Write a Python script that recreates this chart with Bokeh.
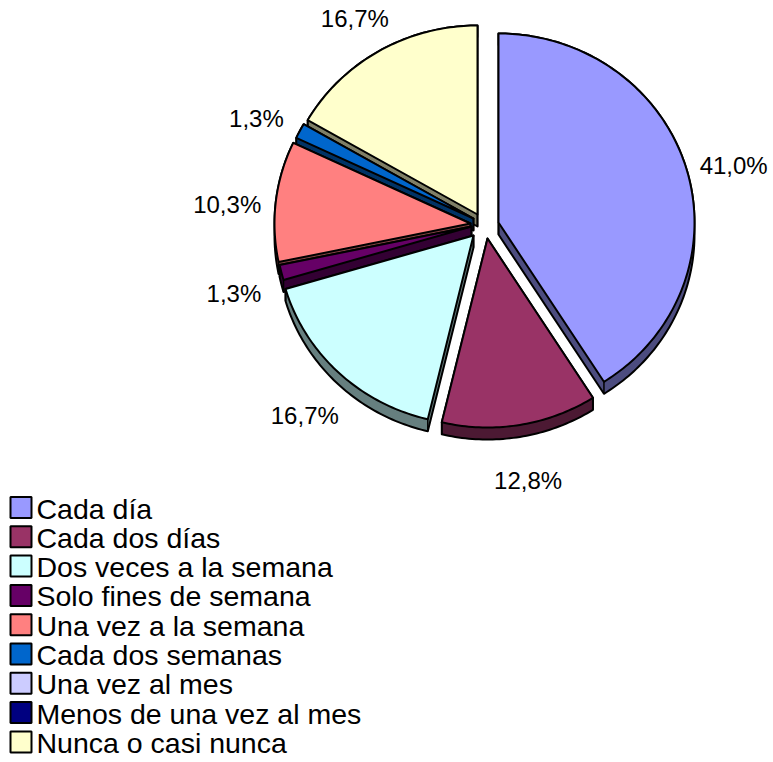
import math
from bokeh.plotting import figure
from bokeh.models import Range1d
from bokeh.embed import file_html
from bokeh.resources import INLINE
from bokeh.core.properties import value

# ---------------- data ----------------
categories = ["Cada día", "Cada dos días", "Dos veces a la semana", "Solo fines de semana",
              "Una vez a la semana", "Cada dos semanas", "Una vez al mes",
              "Menos de una vez al mes", "Nunca o casi nunca"]
percent = [41.0, 12.8, 16.7, 1.3, 10.3, 1.3, 0.0, 0.0, 16.7]
colors = ["#9999FF", "#993366", "#CCFFFF", "#660066", "#FF8080",
          "#0066CC", "#CCCCFF", "#000080", "#FFFFCC"]

# ---------------- layout ----------------
W, H = 773, 762
CX, CY = 474, 214          # pie centre (screen px, y down)
RX, RY = 196, 189          # ellipse radii of the top face
DEPTH = 12                 # 3-D thickness
explode = [(24, 8), (13, 24), (-1, 21), (-3, 12), (-4, 9), (-1, 4), (0, 0), (0, 0), (3, 0)]
LABEL_R = 1.25
LABEL_DY = 9
FONT = "Liberation Sans"

p = figure(width=W, height=H, x_range=Range1d(0, W), y_range=Range1d(H, 0),
           x_axis_type=None, y_axis_type=None, output_backend="svg",
           toolbar_location=None, min_border=0)
p.grid.visible = False
p.outline_line_color = None
p.background_fill_color = "white"
p.border_fill_color = "white"


def darker(hexcol, f=0.5):
    r, g, b = int(hexcol[1:3], 16), int(hexcol[3:5], 16), int(hexcol[5:7], 16)
    return "#%02x%02x%02x" % (int(r * f), int(g * f), int(b * f))


def hull(points):
    pts = sorted(set(points))
    if len(pts) <= 2:
        return pts

    def cross(o, a, b):
        return (a[0] - o[0]) * (b[1] - o[1]) - (a[1] - o[1]) * (b[0] - o[0])
    lower, upper = [], []
    for pt_ in pts:
        while len(lower) >= 2 and cross(lower[-2], lower[-1], pt_) <= 0:
            lower.pop()
        lower.append(pt_)
    for pt_ in reversed(pts):
        while len(upper) >= 2 and cross(upper[-2], upper[-1], pt_) <= 0:
            upper.pop()
        upper.append(pt_)
    return lower[:-1] + upper[:-1]


total = sum(percent)
slices = []
start = 0.0
for i, v in enumerate(percent):
    sweep = 360.0 * v / total
    if v > 0:
        ax, ay = CX + explode[i][0], CY + explode[i][1]
        n = max(4, int(sweep / 1.0))
        arc = []
        for k in range(n + 1):
            th = math.radians(start + sweep * k / n)
            arc.append((ax + RX * math.sin(th), ay - RY * math.cos(th)))
        top = [(ax, ay)] + arc
        mid = math.radians(start + sweep / 2)
        cy_ = ay - RY * math.cos(mid) * 0.6
        slices.append(dict(i=i, top=top, arc=arc, apex=(ax, ay), mid=mid, key=cy_))
    start += sweep

for s in sorted(slices, key=lambda d: d["key"]):
    i = s["i"]
    pts = s["top"] + [(x, y + DEPTH) for x, y in s["top"]]
    h = hull(pts)
    p.patch([q[0] for q in h], [q[1] for q in h], fill_color=darker(colors[i]),
            line_color="black", line_width=2, line_join="round")
    verts = [s["apex"], s["arc"][0], s["arc"][-1]]
    p.multi_line([[x, x] for x, y in verts], [[y, y + DEPTH] for x, y in verts],
                 line_color="black", line_width=1.5)
    p.patch([q[0] for q in s["top"]], [q[1] for q in s["top"]], fill_color=colors[i],
            line_color="black", line_width=2, line_join="round")

# data labels
lx, ly, lt = [], [], []
for s in slices:
    ax, ay = s["apex"]
    lx.append(ax + LABEL_R * RX * math.sin(s["mid"]))
    ly.append(ay - LABEL_R * RY * math.cos(s["mid"]) + LABEL_DY)
    lt.append(("%.1f" % percent[s["i"]]).replace(".", ",") + "%")
p.text(x=lx, y=ly, text=lt, text_align="center", text_baseline="middle",
       text_font=value(FONT), text_font_size="24px", text_color="black")

# legend
LEG_X0, LEG_C0, LEG_DY, SQ = 10, 507, 29.3, 21
centers = [LEG_C0 + k * LEG_DY for k in range(len(categories))]
p.quad(left=[LEG_X0] * len(centers), right=[LEG_X0 + SQ] * len(centers),
       top=[c - SQ / 2 for c in centers], bottom=[c + SQ / 2 for c in centers],
       fill_color=colors, line_color="black", line_width=2)
p.text(x=[LEG_X0 + SQ + 5] * len(centers), y=[c + 1 for c in centers], text=categories,
       text_align="left", text_baseline="middle", text_font=value(FONT),
       text_font_size="28.5px", text_color="black")

open("out.html", "w").write(file_html(p, INLINE))
